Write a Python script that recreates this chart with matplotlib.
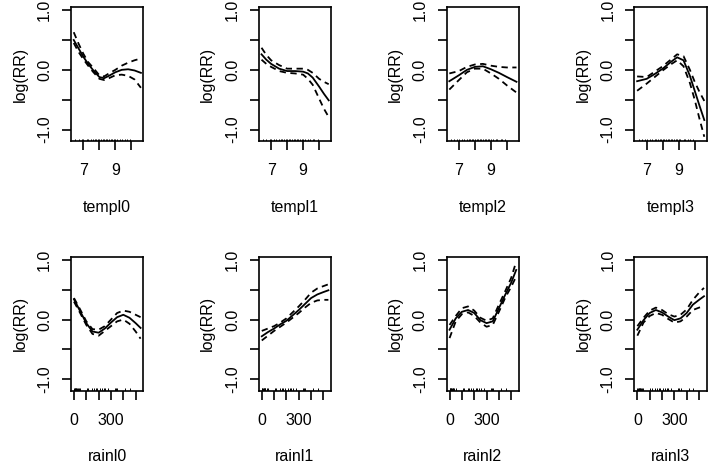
import numpy as np
import matplotlib
matplotlib.use("Agg")
import matplotlib.pyplot as plt

plt.rcParams['font.family'] = ['Liberation Sans', 'DejaVu Sans']
plt.rcParams['font.size'] = 11.5

# temperature lag panels (x, fit, upper, lower)
templ0_x = [6.4, 6.7, 7.0, 7.3, 7.6, 8.0, 8.3, 8.6, 9.0, 9.4, 9.8, 10.2, 10.6]
templ0_fit = [0.50, 0.36, 0.22, 0.10, 0.00, -0.12, -0.14, -0.10, -0.04, 0.00, 0.01, -0.01, -0.05]
templ0_up = [0.63, 0.44, 0.27, 0.13, 0.04, -0.09, -0.11, -0.06, 0.00, 0.07, 0.12, 0.16, 0.19]
templ0_lo = [0.45, 0.30, 0.18, 0.07, -0.03, -0.15, -0.17, -0.14, -0.09, -0.08, -0.10, -0.16, -0.30]

templ1_x = [6.4, 6.7, 7.0, 7.5, 8.0, 8.5, 9.0, 9.3, 9.6, 10.0, 10.3, 10.6]
templ1_fit = [0.26, 0.17, 0.10, 0.02, -0.02, -0.02, -0.03, -0.06, -0.13, -0.28, -0.40, -0.51]
templ1_up = [0.37, 0.25, 0.16, 0.08, 0.02, 0.02, 0.02, 0.00, -0.05, -0.15, -0.20, -0.24]
templ1_lo = [0.17, 0.10, 0.05, -0.02, -0.05, -0.06, -0.08, -0.15, -0.25, -0.48, -0.65, -0.79]

templ2_x = [6.4, 7.0, 7.5, 8.0, 8.5, 9.0, 9.5, 10.0, 10.6]
templ2_fit = [-0.19, -0.09, 0.00, 0.05, 0.06, 0.01, -0.05, -0.12, -0.20]
templ2_up = [-0.06, -0.02, 0.05, 0.09, 0.10, 0.07, 0.05, 0.04, 0.04]
templ2_lo = [-0.33, -0.17, -0.04, 0.02, 0.02, -0.06, -0.15, -0.26, -0.38]

templ3_x = [6.4, 7.0, 7.5, 8.0, 8.5, 8.9, 9.3, 9.7, 10.0, 10.3, 10.6]
templ3_fit = [-0.19, -0.15, -0.07, 0.02, 0.13, 0.21, 0.16, -0.10, -0.35, -0.60, -0.84]
templ3_up = [-0.11, -0.12, -0.03, 0.06, 0.17, 0.26, 0.23, 0.00, -0.20, -0.37, -0.52]
templ3_lo = [-0.35, -0.23, -0.12, -0.01, 0.09, 0.16, 0.06, -0.22, -0.50, -0.82, -1.12]

# rain lag panels
rain_x = [0, 50, 100, 150, 200, 250, 300, 350, 400, 450, 500, 540]
rainl0_fit = [0.34, 0.14, -0.06, -0.20, -0.22, -0.15, -0.05, 0.04, 0.08, 0.03, -0.06, -0.14]
rainl0_up = [0.36, 0.17, -0.03, -0.16, -0.17, -0.11, 0.00, 0.11, 0.15, 0.13, 0.08, 0.04]
rainl0_lo = [0.30, 0.11, -0.09, -0.24, -0.27, -0.19, -0.11, -0.03, 0.00, -0.07, -0.20, -0.32]

rainl1_fit = [-0.28, -0.21, -0.15, -0.08, -0.02, 0.07, 0.16, 0.26, 0.36, 0.42, 0.46, 0.49]
rainl1_up = [-0.19, -0.15, -0.11, -0.05, 0.02, 0.12, 0.22, 0.33, 0.45, 0.52, 0.56, 0.59]
rainl1_lo = [-0.35, -0.27, -0.19, -0.12, -0.05, 0.03, 0.11, 0.20, 0.28, 0.32, 0.33, 0.33]

rainl2_fit = [-0.17, 0.02, 0.13, 0.16, 0.11, -0.01, -0.06, -0.03, 0.19, 0.41, 0.62, 0.83]
rainl2_up = [-0.09, 0.06, 0.19, 0.22, 0.15, 0.03, -0.02, 0.02, 0.25, 0.47, 0.70, 0.97]
rainl2_lo = [-0.31, -0.03, 0.09, 0.12, 0.06, -0.05, -0.12, -0.09, 0.13, 0.36, 0.55, 0.72]

rainl3_fit = [-0.17, -0.01, 0.11, 0.16, 0.12, 0.05, -0.01, 0.02, 0.11, 0.25, 0.33, 0.39]
rainl3_up = [-0.11, 0.03, 0.15, 0.20, 0.16, 0.09, 0.05, 0.08, 0.17, 0.33, 0.45, 0.53]
rainl3_lo = [-0.27, -0.05, 0.06, 0.11, 0.08, 0.01, -0.05, -0.03, 0.05, 0.16, 0.20, 0.22]

# rug positions
temp_rug = [6.5, 6.7, 6.9, 7.0, 7.2, 7.3, 7.5, 7.6, 7.7, 7.8, 7.9, 8.0, 8.1, 8.2,
            8.3, 8.4, 8.5, 8.6, 8.7, 8.8, 8.9, 9.0, 9.1, 9.3, 9.4, 9.6, 9.7, 9.9]
rain_rug = [0, 5, 10, 15, 20, 25, 30, 40, 49, 105, 115, 146, 160, 175, 187,
            211, 225, 240, 252, 276, 333, 340, 350, 415, 455]

temp_ticks = [7, 8, 9, 10]
temp_labels = ['7', '', '9', '']
rain_ticks = [0, 100, 200, 300, 400, 500]
rain_labels = ['0', '', '', '300', '', '']
y_ticks = [-1.0, -0.5, 0.0, 0.5, 1.0]
y_labels = ['-1.0', '', '0.0', '', '1.0']

panels = [
    ('templ0', templ0_x, templ0_fit, templ0_up, templ0_lo),
    ('templ1', templ1_x, templ1_fit, templ1_up, templ1_lo),
    ('templ2', templ2_x, templ2_fit, templ2_up, templ2_lo),
    ('templ3', templ3_x, templ3_fit, templ3_up, templ3_lo),
    ('rainl0', rain_x, rainl0_fit, rainl0_up, rainl0_lo),
    ('rainl1', rain_x, rainl1_fit, rainl1_up, rainl1_lo),
    ('rainl2', rain_x, rainl2_fit, rainl2_up, rainl2_lo),
    ('rainl3', rain_x, rainl3_fit, rainl3_up, rainl3_lo),
]

W, H = 708, 463
fig = plt.figure(figsize=(W / 100, H / 100), dpi=100)

lefts = [71, 258.8, 446.6, 634.4]
tops = [7, 256.7]
bw, bh = 72.3, 134.2

for k, (name, x, fit, up, lo) in enumerate(panels):
    row, col = divmod(k, 4)
    ax = fig.add_axes([lefts[col] / W, (H - tops[row] - bh) / H, bw / W, bh / H])
    ax.plot(x, fit, color='black', lw=1.3)
    ax.plot(x, up, color='black', lw=1.3, linestyle=(0, (3.5, 2.5)))
    ax.plot(x, lo, color='black', lw=1.3, linestyle=(0, (3.5, 2.5)))
    if row == 0:
        ax.set_xlim(6.23, 10.75)
        ax.set_xticks(temp_ticks)
        ax.set_xticklabels(temp_labels)
        rug = temp_rug
    else:
        ax.set_xlim(-24, 562)
        ax.set_xticks(rain_ticks)
        ax.set_xticklabels(rain_labels)
        rug = rain_rug
    ax.vlines(rug, 0, 0.018, transform=ax.get_xaxis_transform(), color='black', lw=0.7)
    ax.set_ylim(-1.194, 1.052)
    ax.set_yticks(y_ticks)
    ax.set_yticklabels(y_labels, rotation=90, va='center')
    ax.tick_params(direction='out', length=6.5, width=1.2, labelsize=11.5)
    ax.tick_params(axis='x', pad=9.5)
    ax.tick_params(axis='y', pad=7)
    for s in ax.spines.values():
        s.set_linewidth(1.2)
    ax.text(0.5, -66 / bh, name, transform=ax.transAxes, ha='center', va='center')
    ax.text(-51 / bw, 0.5, 'log(RR)', transform=ax.transAxes, ha='center', va='center',
            rotation=90)

fig.savefig('out.png', dpi=100)
